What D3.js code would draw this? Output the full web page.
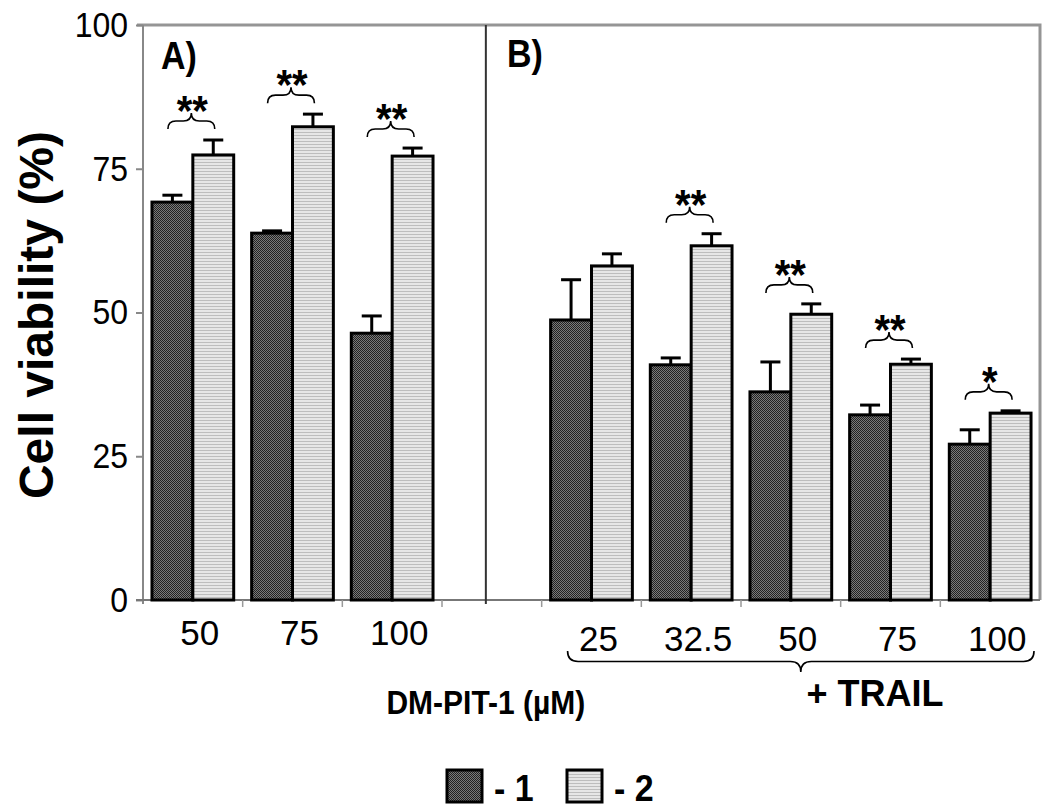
<!DOCTYPE html>
<html><head><meta charset="utf-8">
<script src="https://cdn.jsdelivr.net/npm/d3@7"></script>
<style>
html,body{margin:0;padding:0;background:#fff;}
svg{display:block;font-family:"Liberation Sans",Arial,sans-serif;}
</style></head>
<body><svg id="chart" width="1050" height="812"></svg>
<script>
// ---- data ----
const panelALabels = ["50", "75", "100"];
const panelBLabels = ["25", "32.5", "50", "75", "100"];
const seriesA1 = [69.2, 63.8, 46.4];
const errorA1  = [1.2, 0.4, 3.0];
const seriesA2 = [77.4, 82.3, 77.2];
const errorA2  = [2.6, 2.2, 1.4];
const seriesB1 = [48.7, 40.9, 36.2, 32.2, 27.1];
const errorB1  = [7.0, 1.2, 5.2, 1.7, 2.5];
const seriesB2 = [58.1, 61.6, 49.7, 41.0, 32.5];
const errorB2  = [2.1, 2.1, 1.8, 0.9, 0.4];
const signifA  = ["**", "**", "**"];
const signifB  = ["", "**", "**", "**", "*"];
const yTicks   = [0, 25, 50, 75, 100];
const legendLabels = ["- 1", "- 2"];

// build rows (one empty slot between panels)
const rows = [];
panelALabels.forEach((l, i) => rows.push({label: l, v1: seriesA1[i], e1: errorA1[i], v2: seriesA2[i], e2: errorA2[i], sig: signifA[i], panel: "A"}));
rows.push({label: "", v1: null, v2: null, sig: "", panel: "gap"});
panelBLabels.forEach((l, i) => rows.push({label: l, v1: seriesB1[i], e1: errorB1[i], v2: seriesB2[i], e2: errorB2[i], sig: signifB[i], panel: "B"}));
rows.forEach((r, i) => r.idx = i);

const svg = d3.select("#chart");
const pL = 143, pR = 1040, pT = 25, pB = 600;

const x = d3.scaleBand().domain(rows.map(r => r.idx)).range([pL, pR]).paddingInner(0).paddingOuter(0);
const y = d3.scaleLinear().domain([0, 100]).range([pB, pT]);
const bw = x.bandwidth();

// text helper with slight vertical stretch
function txt(px, py, str, size, weight, anchor, sy) {
  return svg.append("text").attr("transform", `translate(${px},${py}) scale(1,${sy || 1})`)
    .attr("text-anchor", anchor || "start").attr("font-size", size).attr("font-weight", weight || "normal").text(str);
}

// patterns
const defs = svg.append("defs");
const pd = defs.append("pattern").attr("id", "darkPat").attr("patternUnits", "userSpaceOnUse").attr("width", 2).attr("height", 2);
pd.append("rect").attr("width", 2).attr("height", 2).attr("fill", "#7a7a7a");
pd.append("rect").attr("x", 0).attr("y", 0).attr("width", 1).attr("height", 1).attr("fill", "#222");
pd.append("rect").attr("x", 1).attr("y", 1).attr("width", 1).attr("height", 1).attr("fill", "#222");
const pl = defs.append("pattern").attr("id", "lightPat").attr("patternUnits", "userSpaceOnUse").attr("width", 4).attr("height", 3);
pl.append("rect").attr("width", 4).attr("height", 3).attr("fill", "#e6e6e6");
pl.append("rect").attr("y", 0).attr("width", 4).attr("height", 1).attr("fill", "#bdbdbd");

// frame: top & right borders
svg.append("path").attr("d", `M${pL - 6},${y(100)} L${pR},${y(100)} L${pR},${pB}`)
  .attr("fill", "none").attr("stroke", "#959595").attr("stroke-width", 3);

// y axis
const yAxis = svg.append("g").attr("transform", `translate(${pL},0)`)
  .call(d3.axisLeft(y).tickValues(yTicks).tickSize(7).tickPadding(8).tickFormat(d3.format("d")));
yAxis.select(".domain").remove();
yAxis.selectAll(".tick line").attr("stroke", "#888").attr("stroke-width", 2);
yAxis.selectAll(".tick text").attr("font-size", 32).attr("fill", "#000")
  .attr("font-family", "Liberation Sans, Arial, sans-serif").attr("transform", "scale(1,1.1)");
svg.append("line").attr("x1", pL).attr("x2", pL).attr("y1", y(100)).attr("y2", pB + 4)
  .attr("stroke", "#888").attr("stroke-width", 2);

// x axis line and ticks at band boundaries
svg.append("line").attr("x1", pL - 7).attr("x2", pR).attr("y1", pB).attr("y2", pB)
  .attr("stroke", "#777").attr("stroke-width", 2);
const bounds = rows.map(r => x(r.idx)).slice(1);
svg.selectAll(".xtick").data(bounds).join("line").attr("class", "xtick")
  .attr("x1", d => d).attr("x2", d => d).attr("y1", pB).attr("y2", pB + 7)
  .attr("stroke", "#999").attr("stroke-width", 1.5);

// panel divider
const gapRow = rows.find(r => r.panel === "gap");
const divX = x(gapRow.idx) + 0.44 * bw;
svg.append("line").attr("x1", divX).attr("x2", divX).attr("y1", y(100)).attr("y2", pB + 4)
  .attr("stroke", "#333").attr("stroke-width", 2);

// bars
const data = rows.filter(r => r.v1 !== null);
const x1 = r => x(r.idx) + 0.09 * bw, x2 = r => x(r.idx) + 0.50 * bw, barW = 0.41 * bw;

// error bars (up only), drawn before bars
function errBars(xf, vk, ek) {
  const g = svg.append("g");
  data.forEach(r => {
    const cx = xf(r) + barW / 2, yt = y(r[vk] + r[ek]);
    g.append("line").attr("x1", cx).attr("x2", cx).attr("y1", y(r[vk])).attr("y2", yt).attr("stroke", "#000").attr("stroke-width", 3);
    g.append("line").attr("x1", cx - 10).attr("x2", cx + 10).attr("y1", yt).attr("y2", yt).attr("stroke", "#000").attr("stroke-width", 3);
  });
}
errBars(x1, "v1", "e1");
errBars(x2, "v2", "e2");

svg.append("g").selectAll("rect").data(data).join("rect")
  .attr("x", x1).attr("width", barW).attr("y", r => y(r.v1)).attr("height", r => pB - y(r.v1))
  .attr("fill", "url(#darkPat)").attr("stroke", "#000").attr("stroke-width", 3);
svg.append("g").selectAll("rect").data(data).join("rect")
  .attr("x", x2).attr("width", barW).attr("y", r => y(r.v2)).attr("height", r => pB - y(r.v2))
  .attr("fill", "url(#lightPat)").attr("stroke", "#000").attr("stroke-width", 3);

// brace path
function bracePath(xa, xb, y0, h, dir) {
  const xm = (xa + xb) / 2, hm = y0 + dir * h / 2, tip = y0 + dir * h, r = Math.min(h / 2, (xb - xa) / 4);
  return `M${xa},${y0} Q${xa},${hm} ${xa + r},${hm} L${xm - r},${hm} Q${xm},${hm} ${xm},${tip} ` +
         `Q${xm},${hm} ${xm + r},${hm} L${xb - r},${hm} Q${xb},${hm} ${xb},${y0}`;
}

// significance braces and stars
data.filter(r => r.sig).forEach(r => {
  const topVal = Math.max(r.v1 + r.e1, r.v2 + r.e2);
  const yb = y(topVal) - 11, h = 16;
  const xa = x(r.idx) + 0.25 * bw, xb = x(r.idx) + 0.72 * bw;
  svg.append("path").attr("d", bracePath(xa, xb, yb, h, -1)).attr("fill", "none").attr("stroke", "#000").attr("stroke-width", 1.6);
  txt((xa + xb) / 2 + 1, yb - h + 12, r.sig, 40, "bold", "middle", 1.05);
});

// x labels
svg.append("g").selectAll("text").data(data).join("text")
  .attr("x", r => x(r.idx) + bw / 2 + 7)
  .attr("y", r => r.panel === "A" ? 645 : 651)
  .attr("text-anchor", "middle").attr("font-size", 35).text(r => r.label);

// big brace under panel B labels
const bRows = data.filter(r => r.panel === "B");
const bxa = x(bRows[0].idx) + 0.26 * bw, bxb = x(bRows[bRows.length - 1].idx) + 0.94 * bw;
svg.append("path").attr("d", bracePath(bxa, bxb, 651, 21, 1)).attr("fill", "none").attr("stroke", "#000").attr("stroke-width", 1.6);
txt(875, 706, "+ TRAIL", 36, "bold", "middle", 1.05);

// x title
txt(divX, 714, "DM-PIT-1 (µM)", 30, "bold", "middle", 1.1);

// y title
svg.append("text").attr("transform", "translate(53,315) rotate(-90)").attr("text-anchor", "middle")
  .attr("font-size", 48).attr("font-weight", "bold").text("Cell viability (%)");

// panel labels
txt(161, 69, "A)", 34, "bold", "start", 1.12);
txt(507, 67, "B)", 34, "bold", "start", 1.12);

// legend
const legX = [447, 567];
const legFill = ["url(#darkPat)", "url(#lightPat)"];
legendLabels.forEach((l, i) => {
  svg.append("rect").attr("x", legX[i]).attr("y", 770).attr("width", 35).attr("height", 32)
    .attr("fill", legFill[i]).attr("stroke", "#000").attr("stroke-width", 3);
  txt(legX[i] + 47, 801, l, 34, "bold", "start", 1.08);
});
</script></body></html>
